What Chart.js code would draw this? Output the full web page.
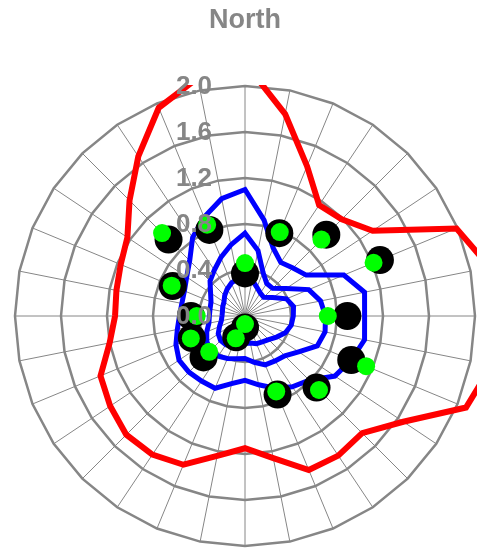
<!DOCTYPE html>
<html>
<head>
<meta charset="utf-8">
<title>North</title>
<script src="https://cdn.jsdelivr.net/npm/chart.js@4.4.1/dist/chart.umd.min.js"></script>
<style>
    html, body { margin: 0; padding: 0; background: #fff; }
    #wrap { width: 485px; height: 548px; position: relative; }
</style>
</head>
<body>
<div id="wrap"><canvas id="northChart"></canvas></div>
<script>
// 32 directions, clockwise from north
const directions = ['0', '11.25', '22.5', '33.75', '45', '56.25', '67.5', '78.75',
    '90', '101.25', '112.5', '123.75', '135', '146.25', '157.5', '168.75',
    '180', '191.25', '202.5', '213.75', '225', '236.25', '247.5', '258.75',
    '270', '281.25', '292.5', '303.75', '315', '326.25', '337.5', '348.75'];

const redLine = [2.2, 1.79, 1.41, 1.16, 1.19, 1.335, 1.99, 2.17, 2.3, 2.19, 2.08, 1.655, 1.44, 1.46, 1.45, 1.26,
    1.15, 1.24, 1.40, 1.45, 1.46, 1.41, 1.36, 1.20, 1.13, 1.14, 1.17, 1.23, 1.42, 1.67, 1.96, 2.11];
const blueOuter = [1.10, 0.85, 0.64, 0.56, 0.59, 0.64, 0.93, 1.06, 1.04, 1.06, 1.0, 0.94, 0.79, 0.74, 0.68, 0.61,
    0.56, 0.60, 0.68, 0.68, 0.69, 0.69, 0.65, 0.60, 0.57, 0.56, 0.57, 0.61, 0.68, 0.82, 0.93, 1.04];
const blueMiddle = [0.72, 0.58, 0.41, 0.34, 0.34, 0.43, 0.60, 0.67, 0.70, 0.71, 0.68, 0.56, 0.49, 0.47, 0.46, 0.41,
    0.37, 0.38, 0.40, 0.42, 0.42, 0.40, 0.36, 0.32, 0.31, 0.31, 0.32, 0.36, 0.43, 0.48, 0.55, 0.63];
const blueInner = [0.33, 0.32, 0.27, 0.24, 0.23, 0.29, 0.39, 0.43, 0.42, 0.41, 0.38, 0.33, 0.29, 0.27, 0.26, 0.24,
    0.24, 0.24, 0.27, 0.30, 0.30, 0.28, 0.24, 0.21, 0.20, 0.20, 0.21, 0.22, 0.25, 0.28, 0.31, 0.33];
const blackDots = [0.37, null, 0.78, null, 1.0, null, 1.27, null, 0.89, null, 1.0, null, 0.88, null, 0.74, null,
    0.1, null, 0.2, null, 0.51, null, 0.50, null, 0.47, null, 0.68, null, 0.94, null, 0.81, null];
const greenDots = [0.46, null, 0.79, null, 0.94, null, 1.21, null, 0.72, null, 1.14, null, 0.91, null, 0.71, null,
    0.07, null, 0.21, null, 0.44, null, 0.51, null, 0.42, null, 0.69, null, 1.02, null, 0.86, null];

const tickValues = [0, 0.4, 0.8, 1.2, 1.6, 2.0];
const tickLabels = ['0.0', '0.4', '0.8', '1.2', '1.6', '2.0'];

document.addEventListener('DOMContentLoaded', function () {
    const gray = '#868686';
    const fontFamily = '"Liberation Sans", Arial, sans-serif';
    const lineClip = { left: 2, top: 1, right: 2, bottom: 2 };

    // radial tick labels sit left of the north spoke, drawn over the data
    const tickLabelPlugin = {
        id: 'tickLabels',
        afterDatasetsDraw(chart) {
            const scale = chart.scales.r;
            const ctx = chart.ctx;
            ctx.save();
            ctx.font = 'bold 26px ' + fontFamily;
            ctx.fillStyle = gray;
            ctx.textAlign = 'center';
            ctx.textBaseline = 'middle';
            tickValues.forEach(function (v, i) {
                const d = scale.getDistanceFromCenterForValue(v);
                ctx.fillText(tickLabels[i], scale.xCenter - 51, scale.yCenter - d + 1);
            });
            ctx.restore();
        }
    };

    const lineSet = function (data, color, width, order) {
        return {
            data: data,
            borderColor: color,
            backgroundColor: color,
            borderWidth: width,
            borderJoinStyle: 'miter',
            pointRadius: 0,
            pointHoverRadius: 0,
            fill: false,
            tension: 0,
            clip: lineClip,
            order: order
        };
    };

    const dotSet = function (data, color, radius, order) {
        return {
            data: data,
            showLine: false,
            borderColor: color,
            backgroundColor: color,
            pointBackgroundColor: color,
            pointBorderWidth: 0,
            pointRadius: radius,
            pointHoverRadius: radius,
            order: order
        };
    };

    const ctx = document.getElementById('northChart').getContext('2d');
    new Chart(ctx, {
        type: 'radar',
        data: {
            labels: directions,
            datasets: [
                dotSet(greenDots, '#00ff00', 9, 0),
                dotSet(blackDots, '#000000', 14, 1),
                lineSet(blueInner, '#0000ff', 5, 2),
                lineSet(blueMiddle, '#0000ff', 5, 2),
                lineSet(blueOuter, '#0000ff', 5, 2),
                lineSet(redLine, '#ff0000', 6, 3)
            ]
        },
        options: {
            responsive: true,
            maintainAspectRatio: false,
            animation: false,
            layout: {
                padding: { left: 15, right: 10, top: 0, bottom: 2 }
            },
            scales: {
                r: {
                    min: 0,
                    max: 2,
                    ticks: { display: false, stepSize: 0.4 },
                    pointLabels: { display: false },
                    grid: { color: gray, lineWidth: 2.5, circular: false },
                    angleLines: { color: gray, lineWidth: 1 }
                }
            },
            plugins: {
                legend: { display: false },
                tooltip: { enabled: false },
                title: {
                    display: true,
                    text: 'North',
                    color: gray,
                    font: { size: 27, weight: 'bold', family: fontFamily },
                    padding: { top: 4, bottom: 49.6 }
                }
            }
        },
        plugins: [tickLabelPlugin]
    });
});
</script>
</body>
</html>
